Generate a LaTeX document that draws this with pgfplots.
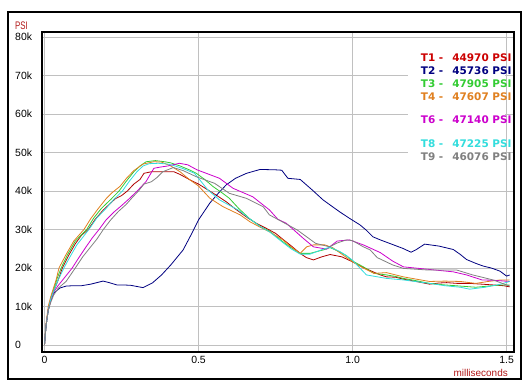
\documentclass[border=0pt]{standalone}
\usepackage{pgfplots}
\pgfplotsset{compat=1.18}
\usepackage{fontspec}
\setmainfont{Liberation Sans}
\newfontfamily\legfont{DejaVu Sans}
\definecolor{cT1}{RGB}{175,0,0}
\definecolor{tT1}{RGB}{204,0,0}
\definecolor{cT2}{RGB}{0,0,128}
\definecolor{cT3}{RGB}{51,204,51}
\definecolor{cT4}{RGB}{224,128,32}
\definecolor{cT6}{RGB}{204,0,204}
\definecolor{cT8}{RGB}{51,221,221}
\definecolor{cT9}{RGB}{128,128,128}
\definecolor{gridgray}{RGB}{192,192,192}
\definecolor{lbl}{RGB}{178,24,24}
\begin{document}
\begin{tikzpicture}[x=1bp,y=1bp]
\path (0,0) rectangle (530,389);
\draw[black, line width=1.5bp] (8,10) rectangle (521,377);
\begin{axis}[
  at={(42bp,37bp)}, anchor=south west,
  width=472bp, height=320bp, scale only axis,
  xmin=-0.0081, xmax=1.524, ymin=-1.82, ymax=81.3,
  axis line style={black, line width=1.2bp},
  xtick={0,0.5,1,1.5}, xticklabels={0,0.5,1.0,1.5},
  ytick={0,10,20,30,40,50,60,70,80},
  yticklabels={0,10k,20k,30k,40k,50k,60k,70k,80k},
  major tick length=0pt,
  grid=major, major grid style={color=gridgray, line width=0.9bp},
  tick label style={font=\fontsize{10.5}{12}\selectfont, text=black},
  yticklabel style={anchor=west, xshift=-27bp, inner sep=0pt},
  xticklabel style={inner sep=0pt, yshift=-4bp},
  every axis plot/.append style={line width=0.8bp, mark=none},
  clip=true,
]
% T1
\addplot[cT1] coordinates {(0,0) (0.005,5) (0.012,9) (0.02,11.5) (0.03,14) (0.045,17) (0.058,20) (0.08,23.5) (0.1,26.3) (0.12,28.5) (0.142,30) (0.165,32.7) (0.19,35) (0.21,36.5) (0.23,38) (0.25,38.8) (0.269,40) (0.29,41.8) (0.31,43) (0.323,44.6) (0.347,45) (0.38,45) (0.42,45) (0.44,44.3) (0.472,42.9) (0.5,41.8) (0.53,40.3) (0.56,38.8) (0.59,37.2) (0.62,35.3) (0.66,33) (0.69,31.5) (0.72,30.3) (0.75,29) (0.77,27.7) (0.80,25.8) (0.83,23.8) (0.85,22.7) (0.873,22.1) (0.9,22.9) (0.927,23.5) (0.965,22.9) (1.0,21.6) (1.03,20.3) (1.067,19) (1.09,18.2) (1.11,17.7) (1.14,17.6) (1.165,17.1) (1.2,16.6) (1.25,15.8) (1.28,16.1) (1.305,16.2) (1.34,16.0) (1.38,16.0) (1.42,15.8) (1.456,15.6) (1.49,15.4) (1.51,15.1)};
% T2
\addplot[cT2] coordinates {(0,0) (0.005,5) (0.012,9) (0.02,11.5) (0.03,13.5) (0.05,14.8) (0.07,15.3) (0.093,15.4) (0.12,15.4) (0.15,15.8) (0.19,16.6) (0.21,16.2) (0.235,15.6) (0.255,15.6) (0.28,15.5) (0.3,15.2) (0.32,14.9) (0.35,16.1) (0.38,18.2) (0.41,20.8) (0.45,24.7) (0.475,28.5) (0.5,32.5) (0.537,36.9) (0.565,39.5) (0.59,41.6) (0.62,43.3) (0.656,44.6) (0.7,45.6) (0.75,45.5) (0.77,45.4) (0.79,43.3) (0.83,43) (0.87,40.2) (0.904,37.7) (0.93,36.2) (0.958,34.6) (0.99,32.9) (1.024,31.2) (1.045,29.8) (1.066,28.1) (1.09,27.3) (1.12,26.4) (1.163,25.1) (1.19,24.1) (1.207,24.8) (1.234,26.2) (1.28,25.7) (1.327,24.8) (1.35,23.5) (1.37,22.2) (1.40,21.2) (1.424,20.5) (1.45,20) (1.478,19.2) (1.5,17.9) (1.51,18.2)};
% T3
\addplot[cT3] coordinates {(0,0) (0.005,5) (0.012,9) (0.02,12) (0.03,14.5) (0.042,17.5) (0.054,20) (0.075,23.5) (0.1,27) (0.137,30) (0.16,33) (0.185,35.5) (0.215,37.8) (0.242,40) (0.265,42.5) (0.29,45) (0.31,46.5) (0.33,47.6) (0.36,47.9) (0.39,47.6) (0.41,47.3) (0.44,46.5) (0.47,45.5) (0.493,44.6) (0.52,43) (0.548,41.1) (0.575,39.6) (0.6,38.1) (0.63,35.5) (0.666,32.8) (0.70,30.8) (0.732,29.5) (0.774,26.8) (0.80,25.3) (0.83,23.8) (0.862,23.8) (0.905,24.7) (0.927,25.3) (0.958,24.2) (0.98,23.2) (1.0,21.8) (1.035,20.3) (1.07,18.6) (1.11,18.2) (1.14,17.8) (1.165,17.3) (1.2,16.8) (1.25,16) (1.3,15.6) (1.35,15.3) (1.40,15) (1.44,15.3) (1.48,15.6) (1.51,15.6)};
% T4
\addplot[cT4] coordinates {(0,0) (0.005,5.5) (0.012,10) (0.02,12.5) (0.03,15) (0.038,17) (0.047,20) (0.07,23.5) (0.095,27) (0.128,30) (0.15,32.8) (0.175,35.5) (0.2,38) (0.22,39.6) (0.245,41.2) (0.265,43.2) (0.29,45.3) (0.32,47) (0.355,47.6) (0.38,47.5) (0.41,46.5) (0.44,45) (0.47,43) (0.5,41.3) (0.537,38.1) (0.58,35.9) (0.635,33.8) (0.667,32) (0.7,30.6) (0.73,29.4) (0.774,27.3) (0.80,25.5) (0.83,23.8) (0.851,25.5) (0.873,26) (0.91,26) (0.935,25.3) (0.965,23.6) (1.0,21.6) (1.035,20) (1.07,18.6) (1.11,18.8) (1.14,18.2) (1.165,17.7) (1.2,17.2) (1.25,16.5) (1.3,16.6) (1.35,16.5) (1.40,16) (1.44,16.5) (1.48,16.9) (1.51,16.9)};
% T6
\addplot[cT6] coordinates {(0,0) (0.005,5) (0.012,9) (0.02,11.5) (0.03,13.8) (0.045,15.5) (0.065,17.5) (0.09,20) (0.11,22.5) (0.135,25.5) (0.155,27.8) (0.177,30) (0.2,32.5) (0.225,34.5) (0.25,36.2) (0.275,38) (0.301,40) (0.33,42.5) (0.355,45.9) (0.375,46.2) (0.4,46.5) (0.438,47.2) (0.465,46.8) (0.495,45.5) (0.525,44.6) (0.568,43.3) (0.612,40.7) (0.676,38.5) (0.73,35.1) (0.757,32.7) (0.785,31.6) (0.84,27.7) (0.873,25.5) (0.916,24.9) (0.95,27) (0.99,27.3) (1.035,26) (1.09,24) (1.13,21.8) (1.165,20.3) (1.24,19.7) (1.327,19) (1.37,18.2) (1.42,16.9) (1.46,16.8) (1.51,16.5)};
% T8
\addplot[cT8] coordinates {(0,0) (0.005,5) (0.012,9) (0.02,11.8) (0.03,14) (0.045,17) (0.063,20) (0.08,22.5) (0.105,26) (0.144,30) (0.17,33) (0.2,35.5) (0.225,37.8) (0.253,40) (0.275,42.5) (0.3,45) (0.32,46.5) (0.34,47.1) (0.37,47.2) (0.4,47) (0.42,46.6) (0.45,45.8) (0.487,44.6) (0.53,40.3) (0.568,37.7) (0.6,36.3) (0.63,35) (0.666,32.8) (0.70,30.8) (0.732,29.3) (0.774,26.6) (0.80,25) (0.83,23.6) (0.862,23.6) (0.905,24.9) (0.927,25.4) (0.958,24.3) (0.98,23.2) (1.0,22) (1.045,18.2) (1.11,17.3) (1.165,16.9) (1.25,16) (1.3,15.4) (1.35,15) (1.38,14.5) (1.43,15) (1.48,15.8) (1.51,16.5)};
% T9
\addplot[cT9] coordinates {(0,0) (0.005,5) (0.012,9) (0.02,11) (0.03,13) (0.045,14.8) (0.07,16.5) (0.1,20) (0.125,23) (0.15,25.5) (0.17,27.5) (0.191,30) (0.215,32.5) (0.24,34.7) (0.265,36.5) (0.285,38.3) (0.305,40) (0.323,41.8) (0.347,42.4) (0.365,43.5) (0.384,45) (0.418,46.1) (0.45,45.3) (0.493,43.7) (0.552,42) (0.6,39.4) (0.655,38.1) (0.71,35.9) (0.73,33.8) (0.82,29.9) (0.88,26.4) (0.925,25.5) (0.95,26.5) (0.98,27.3) (1.0,27.1) (1.035,25.5) (1.057,24.7) (1.08,22.7) (1.13,20.8) (1.165,19.9) (1.24,19.5) (1.337,19.5) (1.39,18.2) (1.456,16.9) (1.51,15.3)};
\end{axis}
\fill[white] (408,389-164) rectangle (505,389-48);
\node[anchor=west, inner sep=0pt, text=lbl] at (15,389-25.5) {\scalebox{0.72}[1]{\fontsize{11}{12}\selectfont PSI}};
\node[anchor=east, inner sep=0pt, text=lbl] at (508,389-372.5) {\fontsize{10}{12}\selectfont milliseconds};
\begin{scope}[every node/.style={inner sep=0pt}]
\newcommand{\legrow}[4]{%
  \node[anchor=west, text=#3] at (420.7,389-#4) {\legfont\bfseries\fontsize{10.5}{12}\selectfont #1 -};
  \node[anchor=east, text=#3] at (511.7,389-#4) {\legfont\bfseries\fontsize{10.5}{12}\selectfont #2 PSI};}
\legrow{T1}{44970}{tT1}{57.3}
\legrow{T2}{45736}{cT2}{70.3}
\legrow{T3}{47905}{cT3}{83.3}
\legrow{T4}{47607}{cT4}{96.3}
\legrow{T6}{47140}{cT6}{120}
\legrow{T8}{47225}{cT8}{143.3}
\legrow{T9}{46076}{cT9}{156.7}
\end{scope}
\end{tikzpicture}
\end{document}
